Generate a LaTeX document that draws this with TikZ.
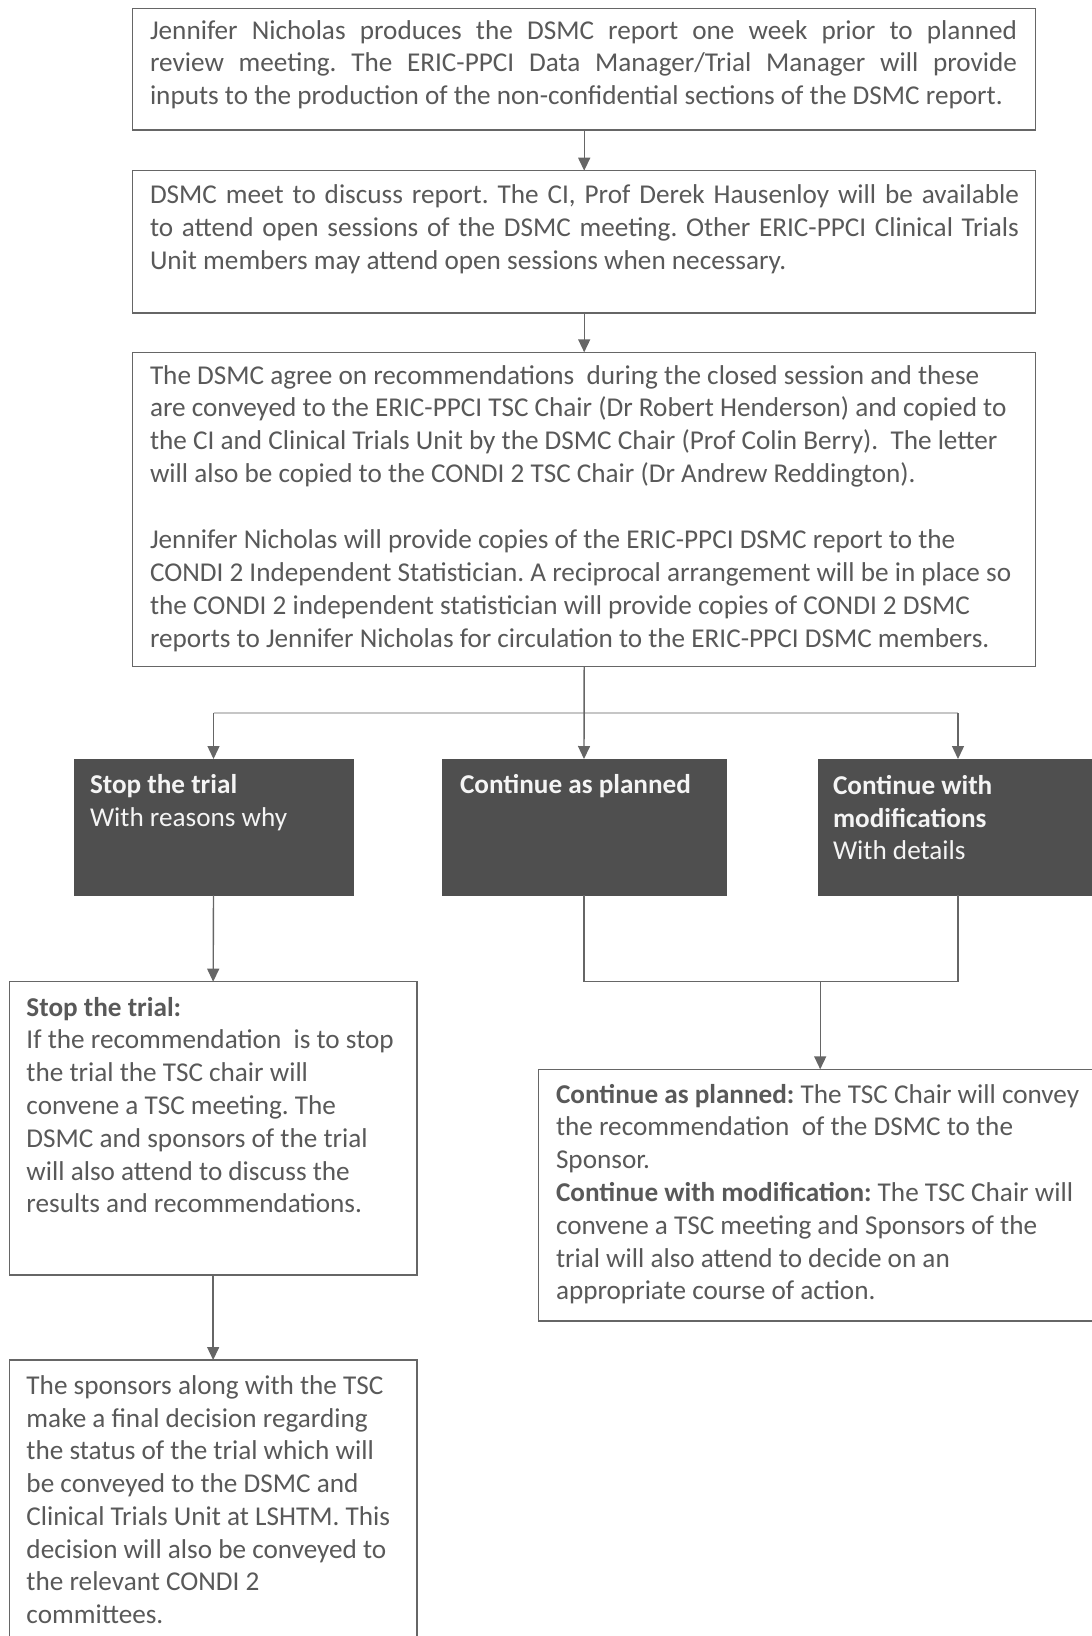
\documentclass[tikz,border=0pt]{standalone}
\usepackage{fontspec}
\setmainfont{Carlito}
\usetikzlibrary{arrows.meta,calc}
\definecolor{txtgray}{HTML}{595959}
\definecolor{linegray}{HTML}{666666}
\definecolor{darkfill}{HTML}{4F4F4F}
\definecolor{lighttxt}{HTML}{F4F4F4}
\frenchspacing
\begin{document}
\frenchspacing
\begin{tikzpicture}[x=1pt,y=1pt,
  wbox/.style={draw=linegray, line width=1.4pt, fill=white, inner sep=0pt, outer sep=0pt, anchor=north west},
  dbox/.style={draw=darkfill, line width=1pt, fill=darkfill, inner sep=0pt, outer sep=0pt, anchor=north west},
  body/.style={inner sep=0pt, outer sep=0pt, anchor=base west, text=txtgray, font=\fontsize{27.2}{32.9}\selectfont},
  dtxt/.style={inner sep=0pt, outer sep=0pt, anchor=base west, text=lighttxt, font=\fontsize{27.2}{32.6}\selectfont},
  conn/.style={draw=linegray, line width=1.4pt},
  arr/.style={conn, -{Triangle[width=12pt,length=13pt]}},
  branch/.style={draw=linegray, line width=0.7pt, double=gray!45, double distance=1.2pt}
]
\useasboundingbox (0,0) rectangle (1092,-1636);
\clip (0,0) rectangle (1092,-1636);

% boxes
\node[wbox, minimum width=903pt, minimum height=121.7pt] (b1) at (132.7,-8.3) {};
\node[wbox, minimum width=903pt, minimum height=142.3pt] (b2) at (132.7,-170.7) {};
\node[wbox, minimum width=903pt, minimum height=314.4pt] (b3) at (132.7,-352.3) {};
\node[dbox, minimum width=279pt, minimum height=136pt] (bA) at (74,-759) {};
\node[dbox, minimum width=284pt, minimum height=136pt] (bB) at (442,-759) {};
\node[dbox, minimum width=280pt, minimum height=136pt] (bC) at (818,-759) {};
\node[wbox, minimum width=407.7pt, minimum height=293.3pt] (bS) at (9.3,-981.7) {};
\node[wbox, minimum width=407.7pt, minimum height=300pt] (bF) at (9.3,-1360) {};
\node[wbox, minimum width=563pt, minimum height=251.7pt] (bK) at (538.7,-1069.3) {};

% texts
\node[body, font=\fontsize{27.2}{32.3}\selectfont] (t1) at (150,-39.5) {\parbox[t]{900pt}{%
\makebox[867pt][s]{Jennifer Nicholas produces the DSMC report one week prior to planned}\\
\makebox[867pt][s]{review meeting. The ERIC-PPCI Data Manager/Trial Manager will provide}\\
inputs to the production of the non-confidential sections of the DSMC report.}};

\node[body, font=\fontsize{27.2}{33.2}\selectfont] (t2) at (150,-203) {\parbox[t]{900pt}{%
\makebox[869pt][s]{DSMC meet to discuss report. The CI, Prof Derek Hausenloy will be available}\\
\makebox[869pt][s]{to attend open sessions of the DSMC meeting. Other ERIC-PPCI Clinical Trials}\\
Unit members may attend open sessions when necessary.}};

\node[body] (t3) at (150,-384) {\parbox[t]{900pt}{%
The DSMC agree on recommendations\ \ during the closed session and these\\
are conveyed to the ERIC-PPCI TSC Chair (Dr Robert Henderson) and copied to\\
the CI and Clinical Trials Unit by the DSMC Chair (Prof Colin Berry).\ \ The letter\\
will also be copied to the CONDI 2 TSC Chair (Dr Andrew Reddington).\\[32.9pt]
Jennifer Nicholas will provide copies of the ERIC-PPCI DSMC report to the\\
CONDI 2 Independent Statistician. A reciprocal arrangement will be in place so\\
the CONDI 2 independent statistician will provide copies of CONDI 2 DSMC\\
reports to Jennifer Nicholas for circulation to the ERIC-PPCI DSMC members.}};

\node[dtxt] (tA) at (90,-793.5) {\parbox[t]{260pt}{\textbf{Stop the trial}\\With reasons why}};
\node[dtxt] (tB) at (460,-793.5) {\parbox[t]{260pt}{\textbf{Continue as planned}}};
\node[dtxt] (tC) at (833,-794.5) {\parbox[t]{260pt}{\textbf{Continue with}\\\textbf{modifications}\\With details}};

\node[body, font=\fontsize{27.2}{32.8}\selectfont] (tS) at (26.5,-1016) {\parbox[t]{390pt}{%
\textbf{Stop the trial:}\\
If the recommendation\ \ is to stop\\
the trial the TSC chair will\\
convene a TSC meeting. The\\
DSMC and sponsors of the trial\\
will also attend to discuss the\\
results and recommendations.}};

\node[body, font=\fontsize{27.2}{32.8}\selectfont] (tK) at (556,-1103) {\parbox[t]{540pt}{%
\textbf{Continue as planned:} The TSC Chair will convey\\
the recommendation\ \ of the DSMC to the\\
Sponsor.\\
\textbf{Continue with modification:} The TSC Chair will\\
convene a TSC meeting and Sponsors of the\\
trial will also attend to decide on an\\
appropriate course of action.}};

\node[body, font=\fontsize{27.2}{32.7}\selectfont] (tF) at (26.5,-1394.5) {\parbox[t]{390pt}{%
The sponsors along with the TSC\\
make a final decision regarding\\
the status of the trial which will\\
be conveyed to the DSMC and\\
Clinical Trials Unit at LSHTM. This\\
decision will also be conveyed to\\
the relevant CONDI 2\\
committees.}};

% connectors
\draw[arr] (b1.south) -- (b2.north);
\draw[arr] (b2.south) -- (b3.north);
\coordinate (brL) at (bA.north |- 0,-713);
\coordinate (brR) at (bC.north |- 0,-713);
\draw[branch] (brL) -- (brR);
\draw[arr] (b3.south) -- (bB.north);
\draw[arr] (brL) -- (bA.north);
\draw[arr] (brR) -- (bC.north);
\draw[arr] (bA.south) -- (bS.north);
\draw[arr] (bS.south) -- (bF.north);
\coordinate (mg) at (bB.south |- 0,-981.7);
\draw[conn] (bB.south) -- (mg) -- (bC.south |- mg) -- (bC.south);
\draw[arr] (bK.north |- mg) -- (bK.north);
\end{tikzpicture}
\end{document}
